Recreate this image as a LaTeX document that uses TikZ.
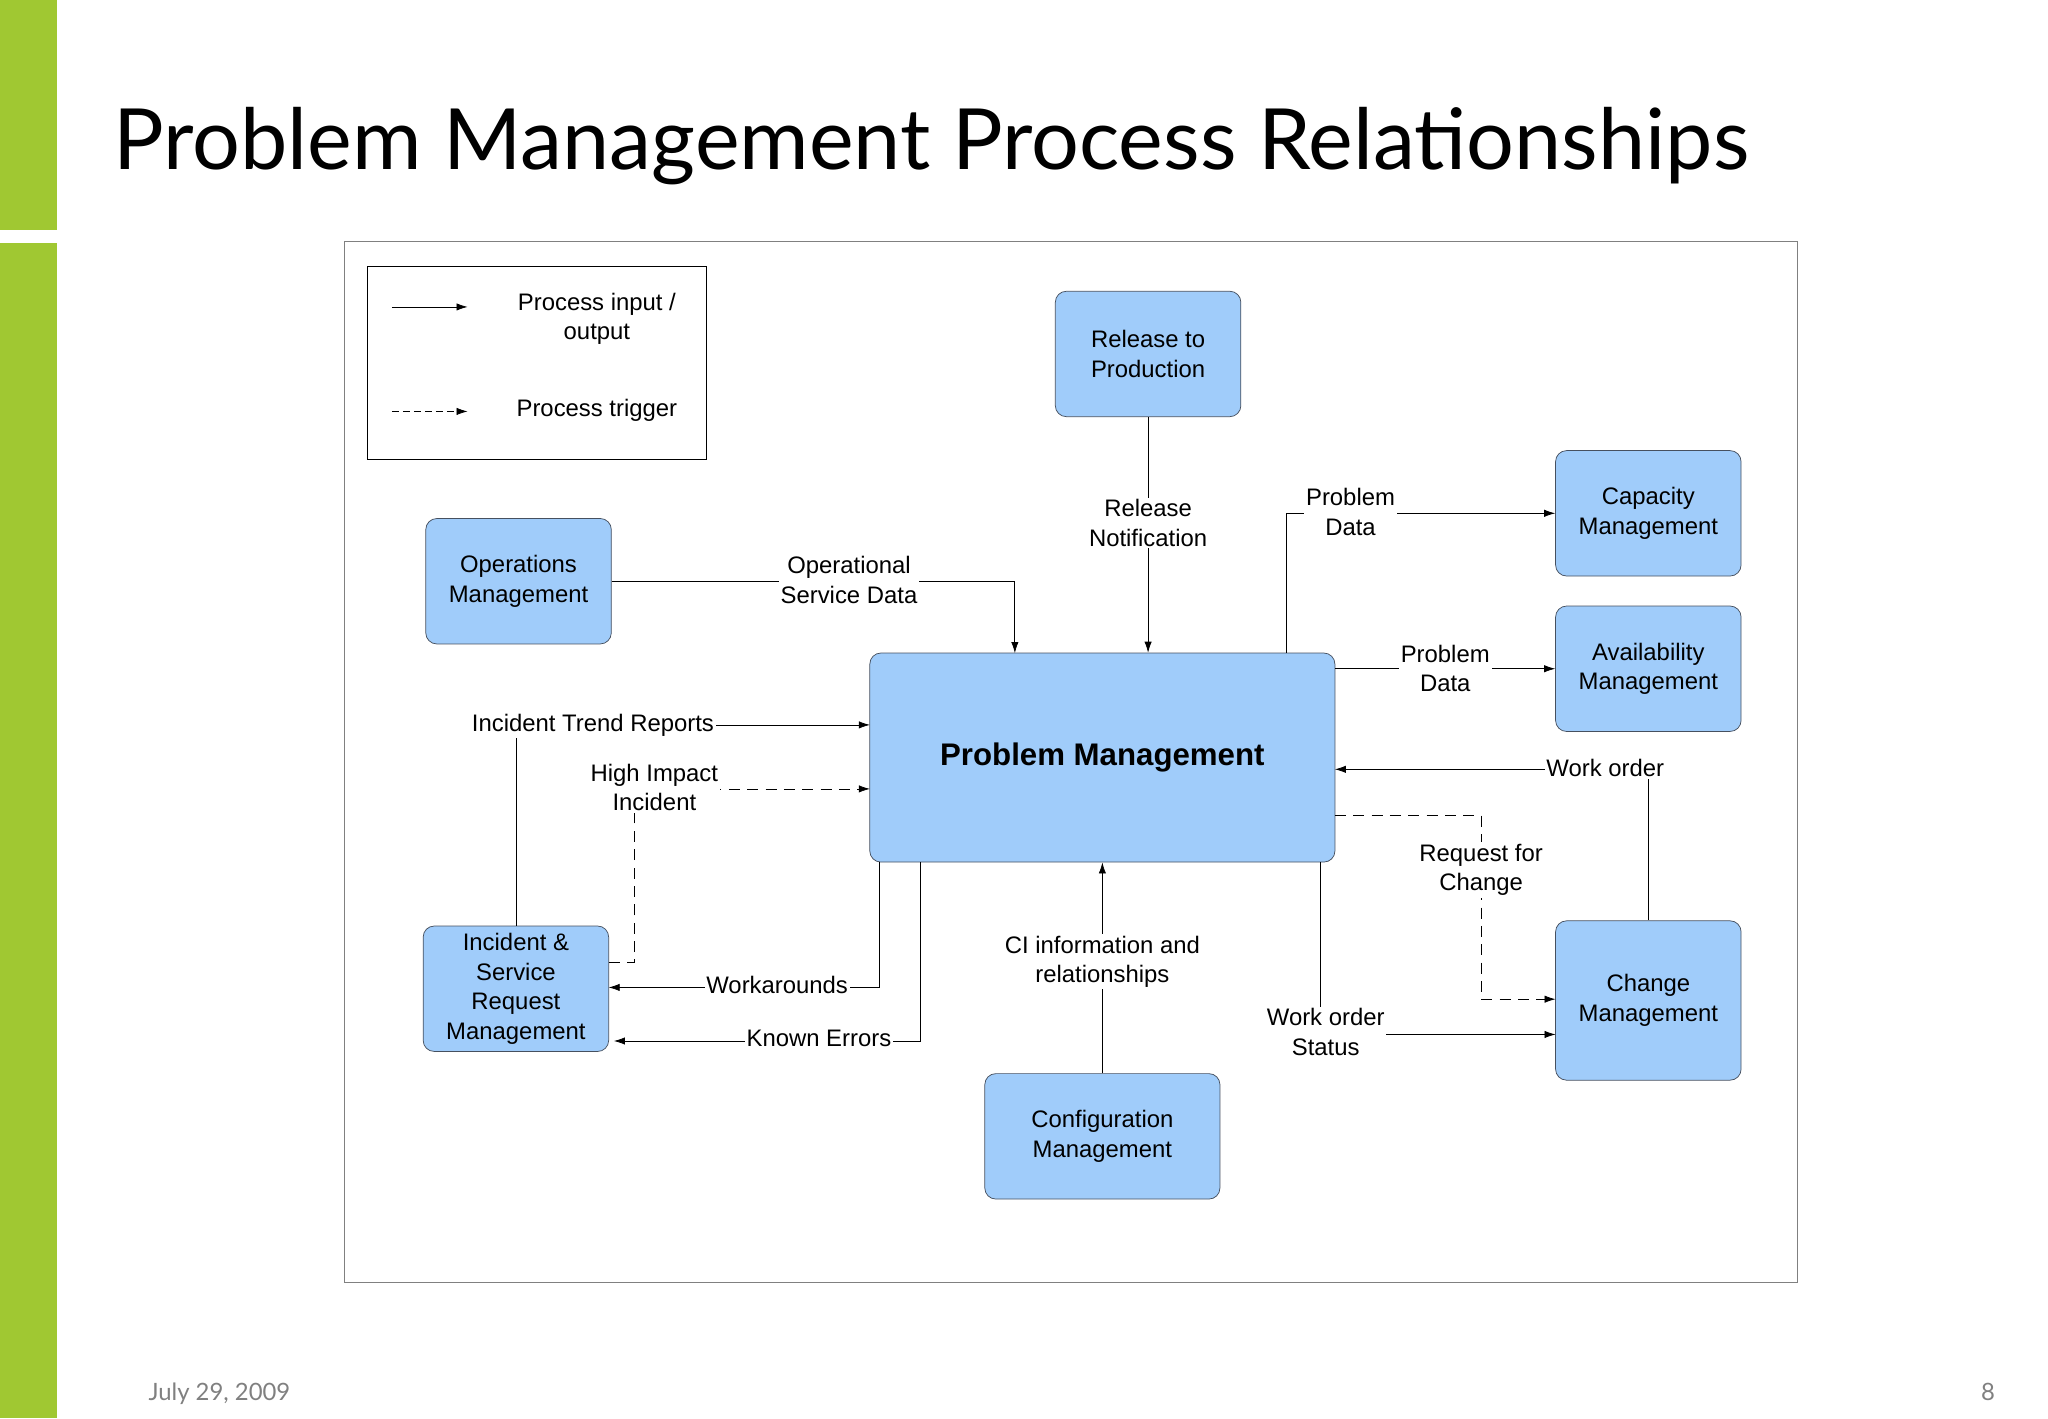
\documentclass[tikz,border=0pt]{standalone}
\usepackage{fontspec}
\setmainfont{Liberation Sans}
\newfontfamily\titlefont{Lato}
\usetikzlibrary{arrows.meta}
\definecolor{slidegreen}{RGB}{160,200,50}
\definecolor{boxblue}{RGB}{160,204,250}
\definecolor{boxline}{RGB}{70,80,95}
\tikzset{
  proc/.style={draw=boxline, fill=boxblue, rounded corners=6pt, align=center,
    minimum width=3.55cm, minimum height=2.4cm, font=\fontsize{13}{16}\selectfont},
  flow/.style={-{Latex[length=6pt,width=4pt]}, thin},
  trig/.style={flow, dash pattern=on 6pt off 4pt},
  lbl/.style={fill=white, inner sep=1pt, align=center, font=\fontsize{13}{16}\selectfont}
}
\begin{document}
\begin{tikzpicture}[x=0.025cm, y=-0.025cm]
\useasboundingbox (0,0) rectangle (1568,1086);
% slide decoration
\fill[slidegreen] (0,0) rectangle (44,176);
\fill[slidegreen] (0,186) rectangle (44,1086);
\node[anchor=base west, font=\titlefont\fontsize{46}{50}\selectfont] (title) at (82,130) {Problem Management Process Relationships};
\node[anchor=base, text=gray, font=\titlefont\fontsize{13}{15}\selectfont] (date) at (168,1072) {July 29, 2009};
\node[anchor=base, text=gray, font=\titlefont\fontsize{13}{15}\selectfont] (page) at (1522,1072) {8};
% frame and legend
\draw[gray] (264,185) rectangle (1376,982);
\draw (281,204) rectangle (541,352);
\coordinate (la1) at (300,235); \coordinate (lb1) at (358,235);
\coordinate (la2) at (300,315); \coordinate (lb2) at (358,315);
\draw[flow] (la1) -- (lb1);
\draw[trig, dash pattern=on 4pt off 2pt] (la2) -- (lb2);
\node[lbl] (lio) at (457,244) {Process input /\\output};
\node[lbl] (ltr) at (457,314) {Process trigger};
% processes
\node[proc] (rel) at (879,271) {Release to\\Production};
\node[proc] (ops) at (397,445) {Operations\\Management};
\node[proc] (cap) at (1262,393) {Capacity\\Management};
\node[proc] (ava) at (1262,512) {Availability\\Management};
\node[proc, minimum width=8.9cm, minimum height=4cm, font=\bfseries\fontsize{17}{20}\selectfont] (pm) at (844,580) {Problem Management};
\node[proc] (inc) at (395,757) {Incident \&\\Service\\Request\\Management};
\node[proc, minimum height=3.05cm] (chg) at (1262,766) {Change\\Management};
\node[proc, minimum width=4.5cm] (cfg) at (844,870) {Configuration\\Management};
% connectors
\draw[flow] (rel) -- (rel |- pm.north) node[lbl, pos=0.45] {Release\\Notification};
\draw[flow] (ops) -- (777,445) -- (777,500);
\node[lbl] (osd) at (650,444) {Operational\\Service Data};
\draw[flow] (985,500) -- (985,393) -- (cap.west);
\node[lbl] (pd1) at (1034,392) {Problem\\Data};
\draw[flow] (pm.east |- ava) -- (ava.west) node[lbl, pos=0.5] {Problem\\Data};
\draw[flow] (chg.north) -- (1262,589) -- (1022,589);
\node[lbl] (wo) at (1229,588) {Work order};
\draw[trig] (1022,624) -- (1134,624) -- (1134,765) -- (1191,765);
\node[lbl] (rfc) at (1134,666) {Request for\\Change};
\draw[flow] (1011,660) -- (1011,792) -- (1191,792);
\node[lbl] (wos) at (1015,790) {Work order\\Status};
\draw[flow] (cfg.north) -- (pm.south) node[lbl, pos=0.53] {CI information and\\relationships};
\draw[flow] (inc.north) -- (395,555) -- (666,555);
\node[lbl] (itr) at (454,555) {Incident Trend Reports};
\draw[trig] (466,737) -- (486,737) -- (486,604) -- (666,604);
\node[lbl] (hii) at (501,603) {High Impact\\Incident};
\draw[flow] (673,660) -- (673,756) -- (466,756);
\node[lbl] (wa) at (595,754) {Workarounds};
\draw[flow] (705,660) -- (705,797) -- (470,797);
\node[lbl] (ke) at (627,795) {Known Errors};
\end{tikzpicture}
\end{document}
